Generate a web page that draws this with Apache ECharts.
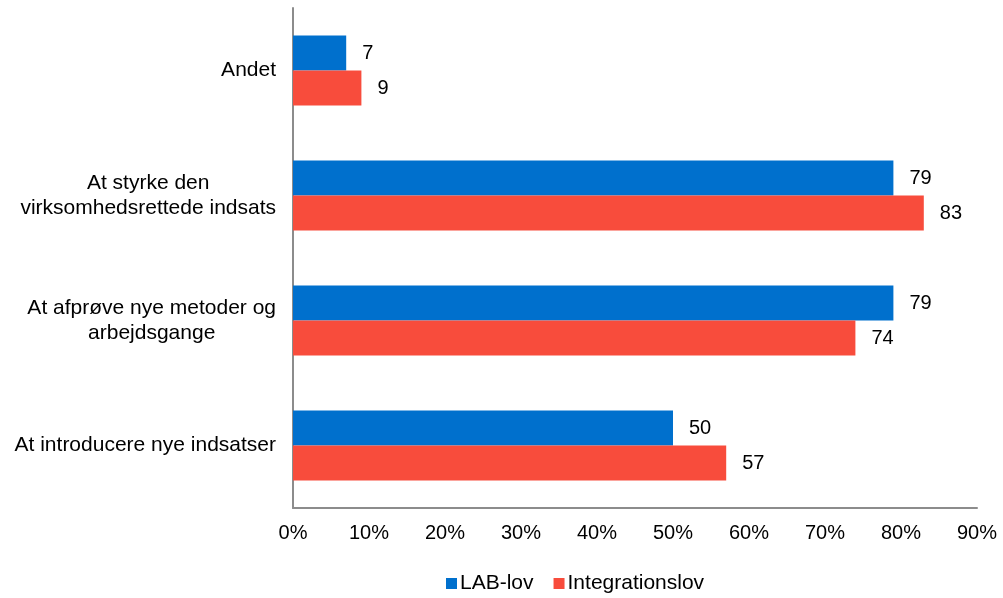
<!DOCTYPE html>
<html><head><meta charset="utf-8">
<script src="https://cdn.jsdelivr.net/npm/echarts@6/dist/echarts.min.js"></script>
<style>html,body{margin:0;padding:0;background:#fff}#c{width:1003px;height:598px}</style>
</head><body><div id="c"></div>
<script>
const categories = ["Andet", "At styrke den\nvirksomhedsrettede indsats", "At afprøve nye metoder og\narbejdsgange", "At introducere nye indsatser"];
const seriesNames = ["LAB-lov", "Integrationslov"];
const labLov = [7, 79, 79, 50];
const integrationslov = [9, 83, 74, 57];
const xTicks = [0, 10, 20, 30, 40, 50, 60, 70, 80, 90];

const font = "Liberation Sans, Arial, sans-serif";
const chart = echarts.init(document.getElementById('c'));
const lbl = {show: true, position: 'right', distance: 16, color: '#000', fontSize: 20, fontFamily: font};
chart.setOption({
  animation: false,
  grid: {left: 293, right: 26, top: 8, bottom: 90, containLabel: false},
  xAxis: {
    type: 'value', min: xTicks[0], max: xTicks[xTicks.length - 1], interval: 10,
    axisLine: {show: true, lineStyle: {color: '#8c8c8c', width: 2}},
    axisTick: {show: false}, splitLine: {show: false},
    axisLabel: {color: '#000', fontSize: 20, fontFamily: font, margin: 15, formatter: v => v + '%'}
  },
  yAxis: {
    type: 'category', data: categories, inverse: true,
    axisLine: {show: true, lineStyle: {color: '#8c8c8c', width: 2}},
    axisTick: {show: false},
    axisLabel: {
      color: '#000', fontSize: 21, fontFamily: font, margin: 17, lineHeight: 25,
      formatter: v => v.split('\n').map(s => '{a|' + s + '}').join('\n'),
      rich: {a: {align: 'center', fontSize: 21, fontFamily: font, color: '#000', lineHeight: 25}}
    }
  },
  legend: {
    top: 568, left: 441, icon: 'rect', itemWidth: 11, itemHeight: 11, itemGap: 20,
    textStyle: {color: '#000', fontSize: 21, fontFamily: font, padding: [0, 0, 0, -2]}
  },
  series: [
    {name: seriesNames[0], type: 'bar', data: labLov, barWidth: 35, barGap: '0%', itemStyle: {color: '#0070CD'}, label: lbl},
    {name: seriesNames[1], type: 'bar', data: integrationslov, barWidth: 35, itemStyle: {color: '#F84C3C'}, label: lbl}
  ]
});
</script></body></html>
